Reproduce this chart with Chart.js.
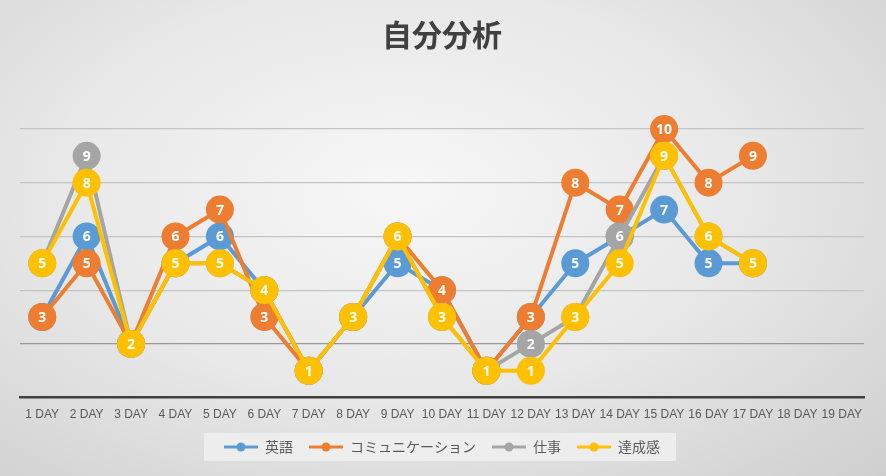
<!DOCTYPE html>
<html>
<head>
<meta charset="utf-8">
<script src="https://cdn.jsdelivr.net/npm/chart.js@4.4.0/dist/chart.umd.min.js"></script>
<style>
  html, body { margin: 0; padding: 0; }
  #wrap {
    width: 886px; height: 476px;
    background: radial-gradient(ellipse at 45% 40%, #f7f7f7 0%, #e8e8e8 50%, #cfcfcf 100%);
  }
</style>
</head>
<body>
<div id="wrap"><canvas id="chart" width="886" height="476"></canvas></div>
<script>
// --- Data ---
const days = ['1 DAY','2 DAY','3 DAY','4 DAY','5 DAY','6 DAY','7 DAY','8 DAY','9 DAY','10 DAY',
              '11 DAY','12 DAY','13 DAY','14 DAY','15 DAY','16 DAY','17 DAY','18 DAY','19 DAY'];
const seriesNames = ['英語', 'コミュニケーション', '仕事', '達成感'];
const eigo     = [3, 6, 2, 5, 6, 4, 1, 3, 5, 4, 1, 3, 5, 6, 7, 5, 5, null, null];
const comm     = [3, 5, 2, 6, 7, 3, 1, 3, 6, 4, 1, 3, 8, 7, 10, 8, 9, null, null];
const shigoto  = [5, 9, 2, 5, 5, 4, 1, 3, 6, 3, 1, 2, 3, 6, 9, 6, 5, null, null];
const tassei   = [5, 8, 2, 5, 5, 4, 1, 3, 6, 3, 1, 1, 3, 5, 9, 6, 5, null, null];

const COLORS = ['#5B9BD5', '#ED7D31', '#A5A5A5', '#FFC000'];

// legend marker: short line with a dot
function legendMarker(color) {
  const c = document.createElement('canvas');
  c.width = 34; c.height = 12;
  const g = c.getContext('2d');
  g.strokeStyle = color; g.lineWidth = 3;
  g.beginPath(); g.moveTo(0, 6); g.lineTo(34, 6); g.stroke();
  g.fillStyle = color;
  g.beginPath(); g.arc(17, 6, 4.5, 0, Math.PI * 2); g.fill();
  return c;
}

// --- Plugins ---
const valueLabels = {
  id: 'valueLabels',
  afterDatasetDraw(chart, args) {
    const ctx = chart.ctx;
    const ds = chart.data.datasets[args.index];
    ctx.save();
    ctx.fillStyle = '#ffffff';
    ctx.font = 'bold 14px "Noto Sans", "Open Sans", sans-serif';
    ctx.textAlign = 'center';
    ctx.textBaseline = 'middle';
    args.meta.data.forEach((pt, i) => {
      const v = ds.data[i];
      if (v == null) return;
      ctx.fillText(String(v), pt.x, pt.y + 1);
    });
    ctx.restore();
  }
};

const legendBox = {
  id: 'legendBox',
  beforeDraw(chart) {
    const boxes = chart.legend && chart.legend.legendHitBoxes;
    if (!boxes || !boxes.length) return;
    const left = Math.min(...boxes.map(b => b.left)) - 20;
    const right = Math.max(...boxes.map(b => b.left + b.width)) + 16;
    const top = Math.min(...boxes.map(b => b.top)) - 7;
    const bottom = Math.max(...boxes.map(b => b.top + b.height)) + 7;
    const ctx = chart.ctx;
    ctx.save();
    ctx.fillStyle = 'rgba(240,240,240,0.85)';
    ctx.fillRect(left, top, right - left, bottom - top);
    ctx.restore();
  }
};

// --- Chart ---
const allSeries = [eigo, comm, shigoto, tassei];
new Chart(document.getElementById('chart'), {
  type: 'line',
  data: {
    labels: days,
    datasets: allSeries.map((d, i) => ({
      label: seriesNames[i],
      data: d,
      borderColor: COLORS[i],
      backgroundColor: COLORS[i],
      borderWidth: 4,
      pointRadius: 14,
      pointHoverRadius: 14,
      pointBorderWidth: 0,
      tension: 0,
      clip: false,
      order: 3 - i
    }))
  },
  options: {
    responsive: false,
    animation: false,
    events: [],
    layout: { padding: { left: 20, right: 22, top: 0, bottom: 12 } },
    plugins: {
      title: {
        display: true,
        text: '自分分析',
        color: '#404040',
        font: { family: '"Noto Sans CJK JP", sans-serif', size: 30, weight: 'bold' },
        padding: { top: 17, bottom: 76 }
      },
      legend: {
        position: 'bottom',
        labels: {
          usePointStyle: true,
          pointStyleWidth: 34,
          color: '#595959',
          font: { family: '"Noto Sans CJK JP", sans-serif', size: 14 },
          padding: 16,
          generateLabels(chart) {
            return chart.data.datasets.map((ds, i) => ({
              text: ds.label,
              fillStyle: ds.borderColor,
              strokeStyle: ds.borderColor,
              fontColor: '#595959',
              lineWidth: 0,
              pointStyle: legendMarker(ds.borderColor),
              datasetIndex: i,
              hidden: false
            }));
          }
        }
      },
      tooltip: { enabled: false }
    },
    scales: {
      x: {
        offset: true,
        grid: { display: false },
        border: { display: true, color: '#404040', width: 2.5 },
        ticks: {
          autoSkip: false,
          maxRotation: 0,
          minRotation: 0,
          padding: 2,
          color: '#595959',
          font: { family: '"Liberation Sans Narrow", "Liberation Sans", sans-serif', size: 12 }
        }
      },
      y: {
        min: 0,
        max: 10,
        ticks: { display: false, stepSize: 2 },
        border: { display: false },
        grid: {
          drawTicks: false,
          lineWidth: 1.3,
          color: ctx => ctx.tick && ctx.tick.value === 2 ? '#999999' : '#c4c4c4'
        }
      }
    }
  },
  plugins: [legendBox, valueLabels]
});
</script>
</body>
</html>
